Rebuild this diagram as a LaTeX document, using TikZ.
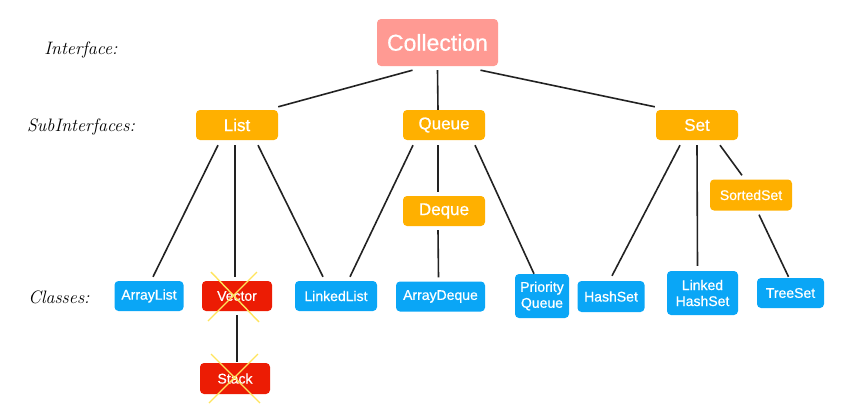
\documentclass[tikz,border=0pt]{standalone}
\usepackage{fontspec}
\setmainfont{Liberation Sans}[FakeBold=0.6]
\newfontfamily\handfont{Latin Modern Roman}
\usetikzlibrary{calc}
\definecolor{collfill}{RGB}{255,154,147}
\definecolor{subfill}{RGB}{255,176,0}
\definecolor{classfill}{RGB}{10,166,246}
\definecolor{deadfill}{RGB}{236,28,4}
\definecolor{crosscol}{RGB}{255,228,92}
\definecolor{linecol}{RGB}{34,34,34}
\begin{document}
\begin{tikzpicture}[x=1pt,y=-1pt,
  boxbase/.style={rounded corners=4pt, text=white, inner sep=0pt, align=center},
  collbox/.style={boxbase, fill=collfill, minimum width=121pt, minimum height=47pt, font=\fontsize{23}{26}\selectfont},
  subbox/.style={boxbase, fill=subfill, minimum width=82pt, minimum height=30pt, font=\fontsize{17}{19}\selectfont},
  smallsub/.style={boxbase, fill=subfill, minimum width=82pt, minimum height=31pt, font=\fontsize{14}{16}\selectfont},
  classbox/.style={boxbase, fill=classfill, minimum height=30pt, font=\fontsize{14}{16}\selectfont},
  deadbox/.style={boxbase, fill=deadfill, minimum height=30pt, font=\fontsize{14}{16}\selectfont},
  hand/.style={font=\handfont\itshape\fontsize{18}{20}\selectfont, text=black, inner sep=0pt},
  link/.style={draw=linecol, line width=1.6pt},
  crossline/.style={draw=crosscol, line width=1.4pt}
]
\useasboundingbox (0,0) rectangle (849,415);

% labels
\node[hand] (lint) at (81,50) {Interface:};
\node[hand] (lsub) at (81,127) {SubInterfaces:};
\node[hand] (lcls) at (59,297) {Classes:};

% nodes
\node[collbox] (coll) at (437.5,42.5) {Collection};
\node[subbox] (list) at (237,125) {List};
\node[subbox] (queue) at (444,125) {Queue};
\node[subbox] (set) at (697,125) {Set};
\node[subbox] (deque) at (444,211) {Deque};
\node[smallsub] (sorted) at (751,195) {SortedSet};

\node[classbox, minimum width=69pt] (arraylist) at (149,296) {ArrayList};
\node[deadbox, minimum width=70pt] (vector) at (237,296) {Vector};
\node[classbox, minimum width=82pt] (linkedlist) at (336,296) {LinkedList};
\node[classbox, minimum width=89pt] (arraydeque) at (440.5,296.5) {ArrayDeque};
\node[classbox, minimum width=54pt, minimum height=44pt] (pq) at (542,296) {Priority\\Queue};
\node[classbox, minimum width=67pt, minimum height=31pt] (hashset) at (611,296.5) {HashSet};
\node[classbox, minimum width=71pt, minimum height=44pt] (lhs) at (702.5,293) {Linked\\HashSet};
\node[classbox, minimum width=67pt] (treeset) at (790.5,293) {TreeSet};
\node[deadbox, minimum width=70pt, minimum height=31pt] (stack) at (235,378.5) {Stack};

% connectors
\draw[link] ([xshift=-25pt,yshift=-4pt]coll.south) -- ([xshift=0pt,yshift=3pt]list.north east);
\draw[link] ([yshift=-4pt]coll.south) -- ([xshift=-6pt]queue.north);
\draw[link] ([xshift=43pt,yshift=-4pt]coll.south) -- ([xshift=-1pt,yshift=3pt]set.north west);

\draw[link] ([xshift=-19pt,yshift=-5pt]list.south) -- ([xshift=4pt,yshift=4pt]arraylist.north);
\draw[link] ([xshift=-2pt,yshift=-5pt]list.south) -- ([xshift=-2pt,yshift=4pt]vector.north);
\draw[link] ([xshift=21pt,yshift=-5pt]list.south) -- ([xshift=-13pt,yshift=4pt]linkedlist.north);

\draw[link] ([xshift=-31pt,yshift=-5pt]queue.south) -- ([xshift=14pt,yshift=4pt]linkedlist.north);
\draw[link] ([xshift=-6pt,yshift=-5pt]queue.south) -- ([xshift=-6pt,yshift=4pt]deque.north);
\draw[link] ([xshift=31pt,yshift=-5pt]queue.south) -- ([xshift=-8pt,yshift=0pt]pq.north);
\draw[link] ([xshift=-6pt,yshift=-4pt]deque.south) -- ([xshift=-2pt,yshift=4pt]arraydeque.north);

\draw[link] ([xshift=-17pt,yshift=-5pt]set.south) -- ([xshift=1pt,yshift=5pt]hashset.north);
\draw[link] ([yshift=-5pt]set.south) -- ([xshift=-5pt,yshift=5pt]lhs.north);
\draw[link] ([xshift=23pt,yshift=-5pt]set.south) -- ([xshift=-9pt,yshift=4pt]sorted.north);
\draw[link] ([xshift=8pt,yshift=-4pt]sorted.south) -- ([xshift=-2pt,yshift=1pt]treeset.north);

\draw[link] ([yshift=-4pt]vector.south) -- ([xshift=2pt,yshift=1pt]stack.north);

% crosses
\draw[crossline] ($(vector.center)+(-26,-24)$) -- ($(vector.center)+(22,26)$);
\draw[crossline] ($(vector.center)+(20,-24)$) -- ($(vector.center)+(-29,25)$);
\draw[crossline] ($(stack.center)+(-24,-24.5)$) -- ($(stack.center)+(25,24.5)$);
\draw[crossline] ($(stack.center)+(23,-24.5)$) -- ($(stack.center)+(-26,24.5)$);
\end{tikzpicture}
\end{document}
